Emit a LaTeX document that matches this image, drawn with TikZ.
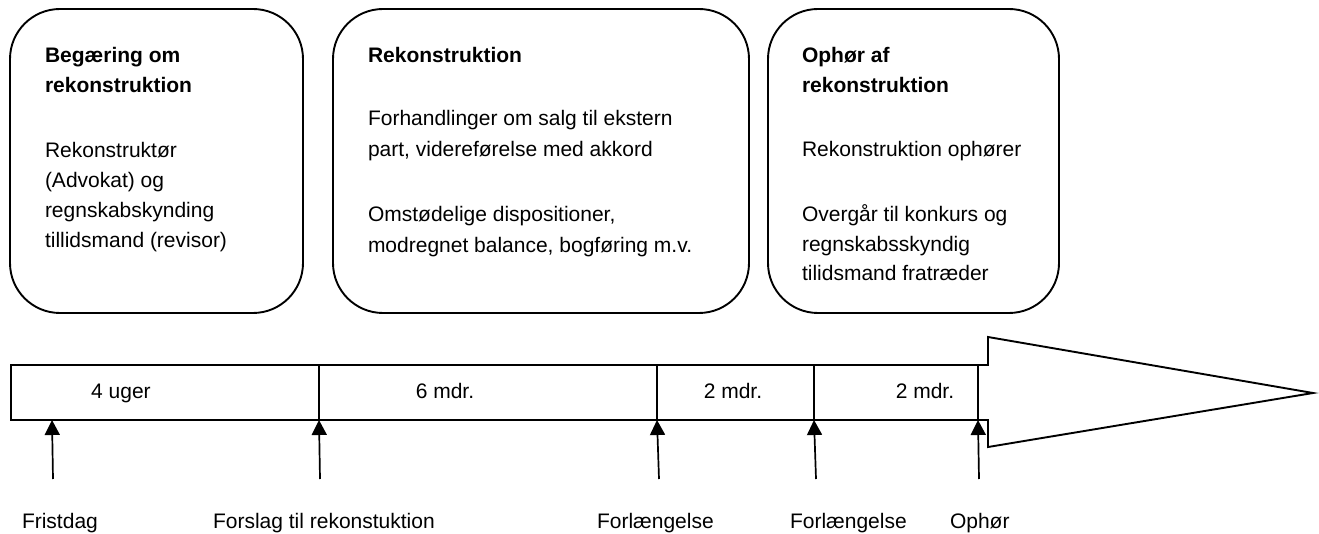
\documentclass[tikz,border=0pt]{standalone}
\usepackage{fontspec}
\setmainfont{Liberation Sans}
\usetikzlibrary{arrows.meta}
\begin{document}
\begin{tikzpicture}[x=1pt,y=-1pt,
  every node/.style={inner sep=0pt,outer sep=0pt,font=\fontsize{21}{30}\selectfont},
  txt/.style={anchor=base west},
  ttl/.style={anchor=base west,font=\fontsize{21}{30}\selectfont\bfseries},
  phase/.style={draw=black,line width=1.9pt,rounded corners=50pt},
  outline/.style={draw=black,line width=1.9pt,line join=miter},
  divider/.style={draw=black,line width=1.8pt},
  marker/.style={draw=black,line width=1.7pt,-{Triangle[width=15pt,length=15pt]}},
  seglabel/.style={anchor=base},
  evlabel/.style={anchor=base west}]
\useasboundingbox (0,0) rectangle (1319,534);
% phase boxes
\path[phase] (10,9) rectangle (303,313);
\path[phase] (333,9) rectangle (749,313);
\path[phase] (768,9) rectangle (1059,313);
% box 1
\node[ttl] (b1a) at (45,63) {Begæring om};
\node[ttl] (b1b) at (45,93) {rekonstruktion};
\node[txt] (b1c) at (45,158) {Rekonstruktør};
\node[txt] (b1d) at (45,188) {(Advokat) og};
\node[txt] (b1e) at (45,218) {regnskabskynding};
\node[txt] (b1f) at (45,248) {tillidsmand (revisor)};
% box 2
\node[ttl] (b2a) at (368,63) {Rekonstruktion};
\node[txt] (b2b) at (368,126) {Forhandlinger om salg til ekstern};
\node[txt] (b2c) at (368,157) {part, videreførelse med akkord};
\node[txt] (b2d) at (368,222) {Omstødelige dispositioner,};
\node[txt] (b2e) at (368,253) {modregnet balance, bogføring m.v.};
% box 3
\node[ttl] (b3a) at (802,63) {Ophør af};
\node[ttl] (b3b) at (802,93) {rekonstruktion};
\node[txt] (b3c) at (802,157) {Rekonstruktion ophører};
\node[txt] (b3d) at (802,222) {Overgår til konkurs og};
\node[txt] (b3e) at (802,252) {regnskabsskyndig};
\node[txt] (b3f) at (802,281) {tilidsmand fratræder};
% timeline bar with arrow head
\path[outline] (11,365) -- (988,365) -- (988,337) -- (1313,393) -- (988,447) -- (988,420) -- (11,420) -- cycle;
\path[divider] (319,365) -- (319,420);
\path[divider] (657,365) -- (657,420);
\path[divider] (814,365) -- (814,420);
\path[divider] (978,365) -- (978,420);
% segment labels
\node[seglabel] (s1) at (121,398) {4 uger};
\node[seglabel] (s2) at (445,398) {6 mdr.};
\node[seglabel] (s3) at (733,398) {2 mdr.};
\node[seglabel] (s4) at (925,398) {2 mdr.};
% event markers
\coordinate (t0) at (52,420);  \coordinate (f0) at (53,479);
\coordinate (t1) at (319,420); \coordinate (f1) at (320,479);
\coordinate (t2) at (657,420); \coordinate (f2) at (659,479);
\coordinate (t3) at (814,420); \coordinate (f3) at (816,479);
\coordinate (t4) at (978,420); \coordinate (f4) at (979,479);
\draw[marker] (f0) -- (t0);
\draw[marker] (f1) -- (t1);
\draw[marker] (f2) -- (t2);
\draw[marker] (f3) -- (t3);
\draw[marker] (f4) -- (t4);
% event labels
\node[evlabel] (e0) at (22,528) {Fristdag};
\node[evlabel] (e1) at (213,528) {Forslag til rekonstuktion};
\node[evlabel] (e2) at (597,528) {Forlængelse};
\node[evlabel] (e3) at (790,528) {Forlængelse};
\node[evlabel] (e4) at (950,528) {Ophør};
\end{tikzpicture}
\end{document}
